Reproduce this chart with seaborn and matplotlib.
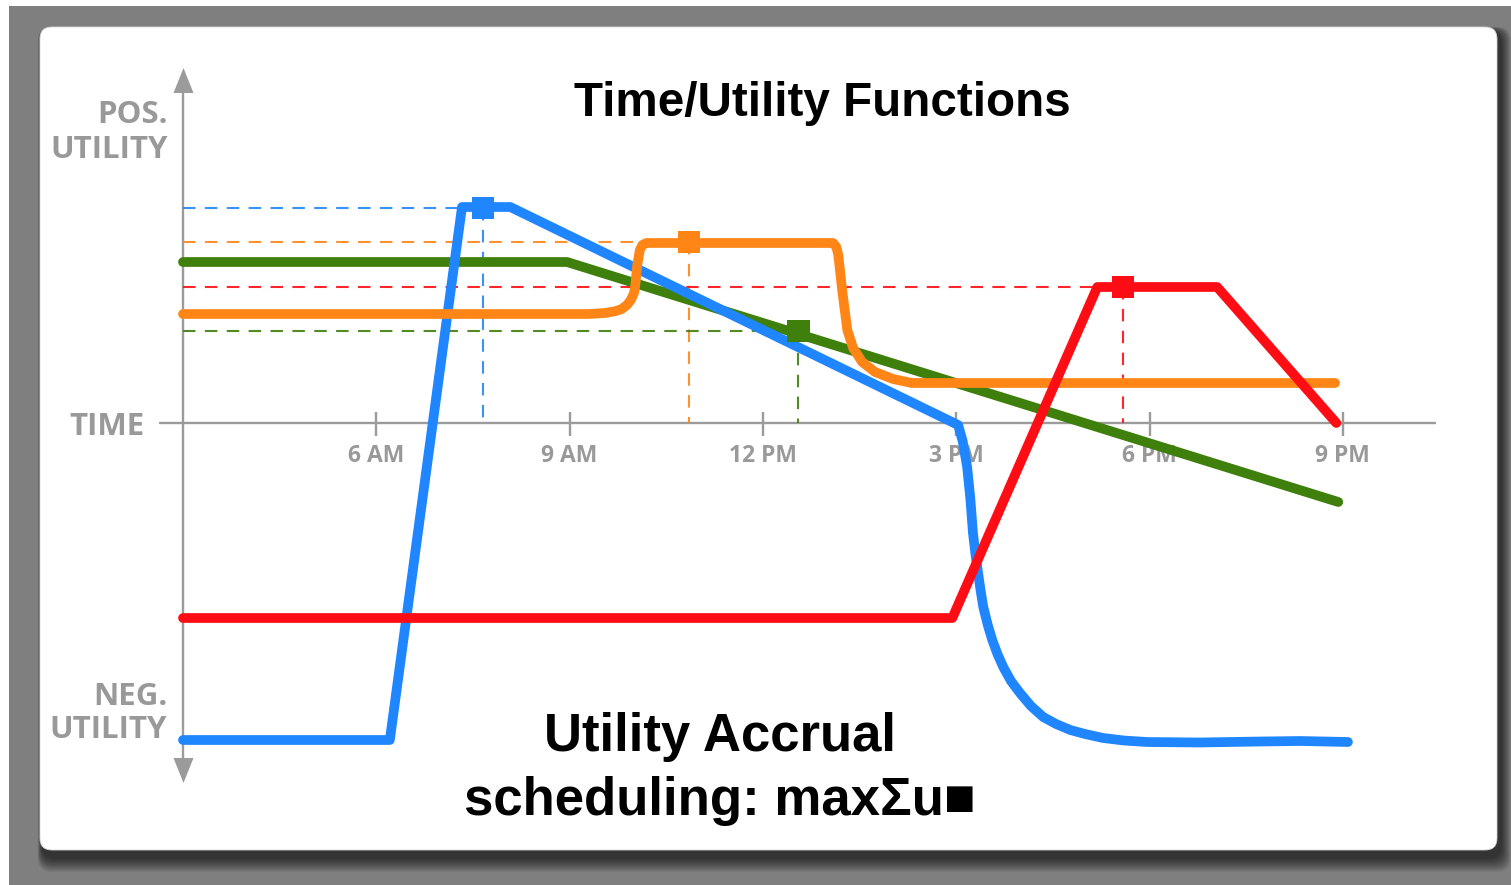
import numpy as np
import pandas as pd
import matplotlib
matplotlib.use("Agg")
import matplotlib.pyplot as plt
import seaborn as sns
from matplotlib.patches import FancyBboxPatch, Rectangle

# ---------------- data ----------------
tick_hours = [6, 9, 12, 15, 18, 21]
tick_labels = ["6 AM", "9 AM", "12 PM", "3 PM", "6 PM", "9 PM"]

blue_h = [3.00, 6.21, 7.33, 8.08, 15.03, 15.10, 15.17, 15.22, 15.26, 15.30, 15.34, 15.38, 15.42,
          15.49, 15.56, 15.64, 15.73, 15.85, 15.99, 16.16, 16.35, 16.55, 16.77, 17.00, 17.28,
          17.60, 17.96, 18.78, 19.72, 20.34, 21.08]
blue_u = [-3.17, -3.17, 2.16, 2.16, -0.02, -0.18, -0.44, -0.76, -1.10, -1.32, -1.50, -1.68, -1.84,
          -2.02, -2.17, -2.31, -2.44, -2.58, -2.70, -2.83, -2.94, -3.01, -3.07, -3.11, -3.15,
          -3.175, -3.19, -3.195, -3.185, -3.18, -3.19]

orange_h = [3.00, 8.93, 9.30, 9.55, 9.72, 9.81, 9.89, 9.95, 10.00, 10.02, 10.05, 10.09, 10.13, 10.19,
            13.09, 13.14, 13.17, 13.23, 13.31, 13.40, 13.54, 13.74, 14.02, 14.31, 20.88]
orange_u = [1.09, 1.09, 1.09, 1.10, 1.12, 1.14, 1.18, 1.23, 1.30, 1.38, 1.58, 1.73, 1.78, 1.80,
            1.80, 1.76, 1.68, 1.33, 0.93, 0.75, 0.61, 0.51, 0.44, 0.40, 0.40]

green_h = [3.00, 8.96, 20.93]
green_u = [1.61, 1.61, -0.79]

red_h = [3.00, 14.94, 17.19, 19.05, 20.90]
red_u = [-1.95, -1.95, 1.36, 1.36, 0.00]

peak_names = ["blue", "orange", "green", "red"]
peak_h = [7.66, 10.85, 12.55, 17.59]
peak_u = [2.15, 1.81, 0.92, 1.36]

colors = {"blue": "#1f86ff", "orange": "#ff8517", "green": "#3f7f0b", "red": "#ff0d14"}
axis_gray = "#9b9b9b"
text_gray = "#999999"

# ---------------- figure ----------------
W, H = 1511, 885
sns.set_theme(style="white")
plt.rcParams["font.family"] = ["Open Sans", "DejaVu Sans"]

fig = plt.figure(figsize=(W / 100, H / 100), dpi=100)
fig.patch.set_facecolor("white")

# background (pixel coordinates)
bg = fig.add_axes([0, 0, 1, 1], zorder=0)
bg.set_xlim(0, W)
bg.set_ylim(H, 0)
bg.axis("off")
bg.add_patch(Rectangle((9, 6), W, H, fc="#7f7f7f", ec="none"))
for i in range(14, 0, -1):
    bg.add_patch(FancyBboxPatch((40 + 2 - i * 0.3, 27 + 4 - i * 0.3), 1457 + 2 + i * 1.0, 823 + 4 + i * 1.3,
                                boxstyle="round,pad=0,rounding_size=14", fc="black", ec="none", alpha=0.055))
bg.add_patch(FancyBboxPatch((40, 27), 1457, 823, boxstyle="round,pad=0,rounding_size=12",
                            fc="white", ec="#d8d8d8", lw=0.6))

# main axes in (hour, utility) data units
PXH = 193.3 / 3.0   # pixels per hour
ax = fig.add_axes([0, 0, 1, 1], zorder=1)
ax.patch.set_alpha(0)
ax.set_xlim(3 - 183 / PXH, 3 + (W - 183) / PXH)
ax.set_ylim((423 - H) / 100, 423 / 100)
ax.axis("off")

origin_h = 3.0
# axes lines
ax.plot([origin_h, origin_h], [3.36, -3.40], color=axis_gray, lw=1.7, zorder=2)
ax.plot([2.64, 22.43], [0, 0], color=axis_gray, lw=1.7, zorder=2)
up_tri = [(0, 1), (-0.8, -1), (0.8, -1), (0, 1)]
down_tri = [(0, -1), (-0.8, 1), (0.8, 1), (0, -1)]
ax.plot([origin_h], [3.43], marker=up_tri, markersize=18, color=axis_gray, mec="none", zorder=2)
ax.plot([origin_h], [-3.465], marker=down_tri, markersize=18, color=axis_gray, mec="none", zorder=2)
ax.vlines(tick_hours, -0.13, 0.11, color=axis_gray, lw=1.7, zorder=2)
for th, tl in zip(tick_hours, tick_labels):
    ax.text(th, -0.39, tl, ha="center", va="baseline", fontsize=16.5, fontweight="bold", color=text_gray, zorder=2)

# dashed guide lines
for name, ph, pu in zip(peak_names, peak_h, peak_u):
    ax.plot([origin_h, ph], [pu, pu], color=colors[name], lw=1.5, dashes=(6, 4.5), alpha=0.9, zorder=3)
    ax.plot([ph, ph], [pu, 0], color=colors[name], lw=1.5, dashes=(6, 4.5), alpha=0.9, zorder=3)

# utility curves
series = [("green", green_h, green_u), ("blue", blue_h, blue_u),
          ("orange", orange_h, orange_u), ("red", red_h, red_u)]
for z, (name, hh, uu) in enumerate(series):
    sns.lineplot(x=hh, y=uu, sort=False, estimator=None, color=colors[name], linewidth=7,
                 ax=ax, solid_capstyle="round", solid_joinstyle="round", zorder=4 + z, legend=False)

# peak markers
peak_df = pd.DataFrame({"h": peak_h, "u": peak_u, "name": peak_names})
sns.scatterplot(data=peak_df, x="h", y="u", hue="name", palette=colors, marker="s", s=260,
                linewidth=0, ax=ax, legend=False, zorder=10)
ax.set_xlabel("")
ax.set_ylabel("")
ax.axis("off")

# axis labels
def fx(px):
    return px / W

def fy(py):
    return 1 - py / H

lab = dict(ha="right", va="baseline", fontsize=22.5, fontweight="bold", color=text_gray)
fig.text(fx(168), fy(123), "POS.", **lab)
fig.text(fx(168), fy(158), "UTILITY", **lab)
fig.text(fx(167), fy(705), "NEG.", **lab)
fig.text(fx(167), fy(738), "UTILITY", **lab)
fig.text(fx(145), fy(435), "TIME", **lab)

# titles
fig.text(fx(822), fy(116), "Time/Utility Functions", ha="center", va="baseline", fontsize=34.3,
         fontweight="bold", color="black", family=["Liberation Sans", "DejaVu Sans"])
fig.text(fx(720), fy(751), "Utility Accrual", ha="center", va="baseline", fontsize=38,
         fontweight="bold", color="black", family=["Liberation Sans", "DejaVu Sans"])
fig.text(fx(720), fy(815), "scheduling: maxΣu■", ha="center", va="baseline", fontsize=38,
         fontweight="bold", color="black", family=["Liberation Sans", "DejaVu Sans"])

fig.savefig("out.png", dpi=100)
